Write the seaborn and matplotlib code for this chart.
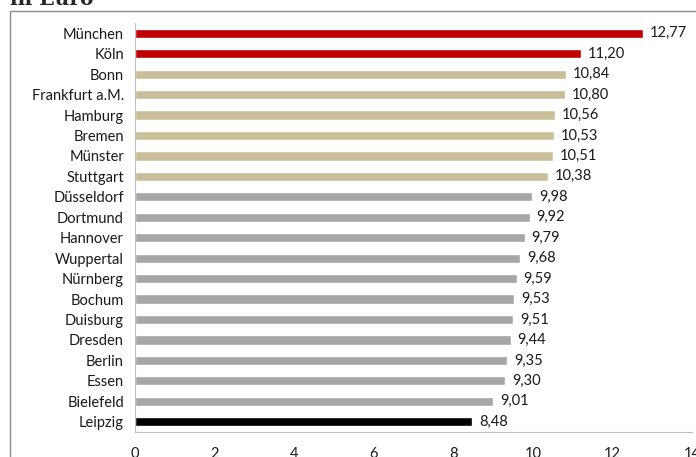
import numpy as np
import pandas as pd
import seaborn as sns
import matplotlib.pyplot as plt
from matplotlib.patches import Rectangle
from matplotlib.ticker import FixedLocator

cities = ["München", "Köln", "Bonn", "Frankfurt a.M.", "Hamburg", "Bremen",
          "Münster", "Stuttgart", "Düsseldorf", "Dortmund", "Hannover",
          "Wuppertal", "Nürnberg", "Bochum", "Duisburg", "Dresden", "Berlin",
          "Essen", "Bielefeld", "Leipzig"]
values = [12.77, 11.20, 10.84, 10.80, 10.56, 10.53, 10.51, 10.38, 9.98, 9.92,
          9.79, 9.68, 9.59, 9.53, 9.51, 9.44, 9.35, 9.30, 9.01, 8.48]
groups = ["top"] * 2 + ["upper"] * 6 + ["rest"] * 11 + ["last"]
group_colors = {"top": "#C00000", "upper": "#C8BF98", "rest": "#A6A6A6", "last": "#000000"}

df = pd.DataFrame({"city": cities, "value": values, "group": groups})

sns.set_style("white")
plt.rcParams["font.family"] = ["Lato", "DejaVu Sans"]

fig = plt.figure(figsize=(6.96, 4.57), dpi=100)
ax = fig.add_axes([135 / 696, 1 - 432 / 457, (692 - 135) / 696, (432 - 23) / 457])

sns.barplot(data=df, x="value", y="city", hue="group", palette=group_colors,
            dodge=False, legend=False, width=0.45, orient="h", ax=ax,
            saturation=1)

ax.set_xlim(0, 14)
ax.set_ylim(19.5, -0.5)
ax.set_xticks(range(0, 15, 2))
ax.set_xlabel("")
ax.set_ylabel("")

# Excel-like ticks between categories
ax.yaxis.set_minor_locator(FixedLocator(np.arange(-0.5, 20, 1)))
ax.tick_params(axis="y", which="major", length=0, pad=8, labelsize=10.5, colors="#1a1a1a")
ax.tick_params(axis="y", which="minor", length=6, color="#BFBFBF", width=0.8)
ax.tick_params(axis="x", which="major", length=5, color="#BFBFBF", width=0.8,
               labelsize=10.5, labelcolor="#1a1a1a", pad=6)

for side in ["top", "right"]:
    ax.spines[side].set_visible(False)
for side in ["left", "bottom"]:
    ax.spines[side].set_color("#BFBFBF")
    ax.spines[side].set_linewidth(0.8)

for i, v in enumerate(values):
    ax.annotate(f"{v:.2f}".replace(".", ","), (v, i), xytext=(5, 0),
                textcoords="offset points", va="center", ha="left",
                fontsize=10.5, color="#1a1a1a")

# outer chart frame (partly off-page)
fig.patches.append(Rectangle((10 / 696, -0.1), 1.2, 1 - 11 / 457 + 0.1,
                             transform=fig.transFigure, fill=False,
                             edgecolor="#8C8C8C", linewidth=1))

fig.text(10 / 696, 1 - 5 / 457, "in Euro", family="DejaVu Serif",
         fontweight="bold", fontsize=14.5, va="baseline", ha="left")

fig.savefig("out.png", dpi=100)
